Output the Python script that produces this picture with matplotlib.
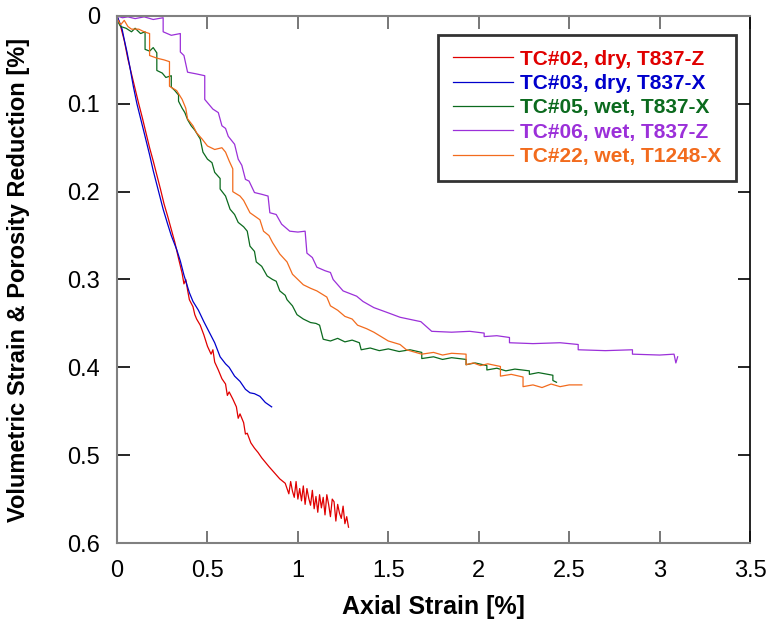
import matplotlib
matplotlib.use('Agg')
import matplotlib.pyplot as plt

plt.rcParams['font.family'] = ['Liberation Sans', 'DejaVu Sans']

# TC#02, dry, T837-Z
red_x = [0, 0.02, 0.04, 0.06, 0.08, 0.10, 0.12, 0.14, 0.16, 0.18, 0.20, 0.22, 0.24,
         0.26, 0.28, 0.30, 0.32, 0.34, 0.36, 0.37, 0.38, 0.39, 0.40, 0.42, 0.43, 0.44,
         0.46, 0.48, 0.50, 0.52, 0.53, 0.54, 0.56, 0.58, 0.60, 0.61, 0.62, 0.64, 0.66,
         0.67, 0.68, 0.70, 0.71, 0.72, 0.74, 0.76, 0.78, 0.80, 0.82, 0.84, 0.87, 0.90,
         0.93, 0.95, 0.96, 0.97, 0.98, 0.99, 1.00, 1.01, 1.02, 1.03, 1.04, 1.05, 1.06,
         1.07, 1.08, 1.09, 1.10, 1.11, 1.12, 1.13, 1.14, 1.15, 1.16, 1.17, 1.18, 1.19,
         1.20, 1.21, 1.22, 1.23, 1.24, 1.25, 1.26, 1.27, 1.28]
red_y = [0, 0.012, 0.028, 0.049, 0.066, 0.083, 0.100, 0.116, 0.133, 0.150, 0.165, 0.181, 0.197,
         0.214, 0.228, 0.243, 0.258, 0.276, 0.293, 0.305, 0.300, 0.312, 0.323, 0.331, 0.340, 0.345,
         0.352, 0.363, 0.376, 0.385, 0.380, 0.394, 0.403, 0.413, 0.419, 0.432, 0.428, 0.436, 0.445,
         0.458, 0.453, 0.463, 0.476, 0.475, 0.486, 0.492, 0.497, 0.503, 0.508, 0.513, 0.520, 0.527,
         0.532, 0.544, 0.530, 0.541, 0.548, 0.530, 0.550, 0.538, 0.552, 0.535, 0.556, 0.538, 0.549,
         0.557, 0.540, 0.561, 0.547, 0.565, 0.545, 0.560, 0.548, 0.568, 0.545, 0.556, 0.570, 0.550,
         0.553, 0.575, 0.556, 0.566, 0.572, 0.558, 0.578, 0.570, 0.582]

# TC#03, dry, T837-X
blue_x = [0, 0.01, 0.028, 0.04, 0.055, 0.07, 0.09, 0.11, 0.127, 0.15, 0.18, 0.20, 0.23,
          0.255, 0.28, 0.30, 0.33, 0.35, 0.37, 0.40, 0.42, 0.45, 0.48, 0.51, 0.54, 0.57,
          0.60, 0.62, 0.65, 0.68, 0.71, 0.735, 0.76, 0.79, 0.82, 0.855]
blue_y = [0, 0.005, 0.015, 0.027, 0.041, 0.057, 0.080, 0.100, 0.114, 0.133, 0.158, 0.176, 0.200,
          0.220, 0.237, 0.250, 0.266, 0.279, 0.295, 0.315, 0.325, 0.335, 0.348, 0.360, 0.372, 0.388,
          0.396, 0.400, 0.410, 0.416, 0.425, 0.429, 0.430, 0.433, 0.440, 0.445]

# TC#05, wet, T837-X
green_x = [0, 0.02, 0.05, 0.08, 0.10, 0.13, 0.155, 0.155, 0.18, 0.20, 0.22, 0.22, 0.25, 0.27,
           0.30, 0.30, 0.32, 0.34, 0.34, 0.36, 0.375, 0.39, 0.41, 0.43, 0.46, 0.475, 0.50,
           0.525, 0.54, 0.57, 0.57, 0.60, 0.625, 0.65, 0.67, 0.70, 0.72, 0.735, 0.76, 0.77,
           0.80, 0.83, 0.86, 0.88, 0.90, 0.93, 0.94, 0.97, 0.995, 1.03, 1.07, 1.10, 1.12,
           1.14, 1.18, 1.22, 1.26, 1.30, 1.34, 1.35, 1.40, 1.45, 1.50, 1.56, 1.62, 1.685,
           1.685, 1.75, 1.80, 1.85, 1.93, 1.93, 1.98, 2.045, 2.045, 2.10, 2.15, 2.20, 2.28,
           2.28, 2.33, 2.41, 2.41, 2.43]
green_y = [0.005, 0.012, 0.014, 0.018, 0.014, 0.020, 0.018, 0.038, 0.040, 0.036, 0.042, 0.062, 0.065, 0.070,
           0.068, 0.081, 0.085, 0.090, 0.097, 0.105, 0.110, 0.118, 0.125, 0.130, 0.140, 0.155, 0.163,
           0.167, 0.178, 0.185, 0.197, 0.205, 0.220, 0.226, 0.235, 0.240, 0.245, 0.262, 0.268, 0.280,
           0.285, 0.296, 0.300, 0.302, 0.313, 0.318, 0.323, 0.330, 0.340, 0.345, 0.349, 0.350, 0.352,
           0.368, 0.370, 0.367, 0.371, 0.369, 0.372, 0.380, 0.378, 0.381, 0.379, 0.382, 0.380, 0.383,
           0.390, 0.388, 0.391, 0.389, 0.391, 0.397, 0.395, 0.398, 0.403, 0.401, 0.404, 0.402, 0.404,
           0.408, 0.406, 0.409, 0.415, 0.417]

# TC#06, wet, T837-Z
purple_x = [0, 0.03, 0.06, 0.10, 0.15, 0.20, 0.255, 0.255, 0.30, 0.35, 0.35, 0.37, 0.39, 0.44,
            0.485, 0.485, 0.53, 0.56, 0.58, 0.60, 0.615, 0.65, 0.67, 0.69, 0.71, 0.73, 0.76,
            0.80, 0.835, 0.845, 0.88, 0.91, 0.955, 1.00, 1.04, 1.05, 1.08, 1.105, 1.15, 1.18,
            1.195, 1.25, 1.325, 1.36, 1.42, 1.50, 1.565, 1.68, 1.74, 1.85, 1.95, 2.03, 2.03,
            2.10, 2.17, 2.17, 2.30, 2.45, 2.55, 2.55, 2.70, 2.85, 2.85, 3.00, 3.08, 3.09, 3.10]
purple_y = [0, 0.002, 0.001, 0.003, 0.001, 0.004, 0.002, 0.018, 0.022, 0.020, 0.041, 0.045, 0.064, 0.066,
            0.068, 0.095, 0.106, 0.110, 0.125, 0.128, 0.137, 0.146, 0.163, 0.170, 0.186, 0.188, 0.201,
            0.203, 0.205, 0.224, 0.226, 0.237, 0.245, 0.246, 0.245, 0.270, 0.275, 0.286, 0.290, 0.292,
            0.300, 0.313, 0.319, 0.325, 0.332, 0.338, 0.343, 0.348, 0.359, 0.360, 0.359, 0.361, 0.365,
            0.364, 0.366, 0.372, 0.373, 0.372, 0.374, 0.380, 0.381, 0.380, 0.385, 0.386, 0.385, 0.395, 0.388]

# TC#22, wet, T1248-X
orange_x = [0, 0.02, 0.04, 0.06, 0.08, 0.12, 0.15, 0.18, 0.18, 0.22, 0.26, 0.29, 0.29, 0.33,
            0.36, 0.38, 0.39, 0.42, 0.44, 0.47, 0.50, 0.54, 0.58, 0.60, 0.62, 0.64, 0.64, 0.68,
            0.70, 0.735, 0.79, 0.81, 0.84, 0.86, 0.90, 0.94, 0.97, 1.00, 1.03, 1.07, 1.105,
            1.16, 1.18, 1.22, 1.26, 1.30, 1.33, 1.38, 1.42, 1.46, 1.50, 1.565, 1.60, 1.685,
            1.75, 1.80, 1.85, 1.93, 1.93, 1.97, 2.01, 2.05, 2.12, 2.12, 2.18, 2.245, 2.245,
            2.30, 2.35, 2.40, 2.45, 2.50, 2.57]
orange_y = [0.003, 0.010, 0.005, 0.012, 0.015, 0.015, 0.018, 0.020, 0.045, 0.048, 0.050, 0.052, 0.080, 0.085,
            0.095, 0.105, 0.117, 0.125, 0.133, 0.140, 0.148, 0.152, 0.150, 0.155, 0.165, 0.174, 0.200, 0.205,
            0.210, 0.224, 0.232, 0.245, 0.250, 0.258, 0.271, 0.280, 0.294, 0.300, 0.306, 0.310, 0.313,
            0.320, 0.330, 0.335, 0.342, 0.345, 0.352, 0.356, 0.360, 0.365, 0.370, 0.374, 0.380, 0.385,
            0.383, 0.386, 0.384, 0.385, 0.397, 0.395, 0.398, 0.396, 0.399, 0.410, 0.408, 0.411, 0.422,
            0.420, 0.423, 0.419, 0.422, 0.420, 0.420]

series = [
    (red_x, red_y, '#E00000', 'TC#02, dry, T837-Z'),
    (blue_x, blue_y, '#0000CC', 'TC#03, dry, T837-X'),
    (green_x, green_y, '#0B6A1E', 'TC#05, wet, T837-X'),
    (purple_x, purple_y, '#9B30D9', 'TC#06, wet, T837-Z'),
    (orange_x, orange_y, '#F26B1D', 'TC#22, wet, T1248-X'),
]

fig = plt.figure(figsize=(7.72, 6.29), dpi=100)
ax = fig.add_axes([0.1516, 0.1367, 0.8199, 0.8379])

for xs, ys, col, lab in series:
    ax.plot(xs, ys, color=col, lw=0.9, label=lab)

ax.set_xlim(0, 3.5)
ax.set_ylim(0.6, 0)
ax.set_xticks([0, 0.5, 1, 1.5, 2, 2.5, 3, 3.5])
ax.set_xticklabels(['0', '0.5', '1', '1.5', '2', '2.5', '3', '3.5'])
ax.set_yticks([0, 0.1, 0.2, 0.3, 0.4, 0.5, 0.6])
ax.set_yticklabels(['0', '0.1', '0.2', '0.3', '0.4', '0.5', '0.6'])

for side in ['left', 'bottom', 'top']:
    ax.spines[side].set_color('#808080')
    ax.spines[side].set_linewidth(1.5)
ax.spines['right'].set_color('black')
ax.spines['right'].set_linewidth(1.2)

ax.tick_params(axis='x', direction='in', top=True, length=9, width=1.2,
               color='#606060', labelsize=17, pad=12)
ax.tick_params(axis='y', direction='in', right=True, length=9, width=1.2,
               color='black', labelsize=17, pad=12)

ax.set_xlabel('Axial Strain [%]', fontsize=18, fontweight='bold')
ax.set_ylabel('Volumetric Strain & Porosity Reduction [%]', fontsize=17,
              fontweight='bold')
ax.xaxis.set_label_coords(0.5, -0.098)
ax.yaxis.set_label_coords(-0.137, 0.5)

leg = ax.legend(loc='upper right', bbox_to_anchor=(0.978, 0.964),
                prop={'weight': 'bold', 'size': 15}, handlelength=2.9,
                handletextpad=0.34, labelspacing=0.26, borderpad=0.7,
                frameon=True, fancybox=False, borderaxespad=0)
leg.get_frame().set_edgecolor('black')
leg.get_frame().set_linewidth(2)
for txt, (_, _, col, _) in zip(leg.get_texts(), series):
    txt.set_color(col)

fig.savefig('out.png', dpi=100)
